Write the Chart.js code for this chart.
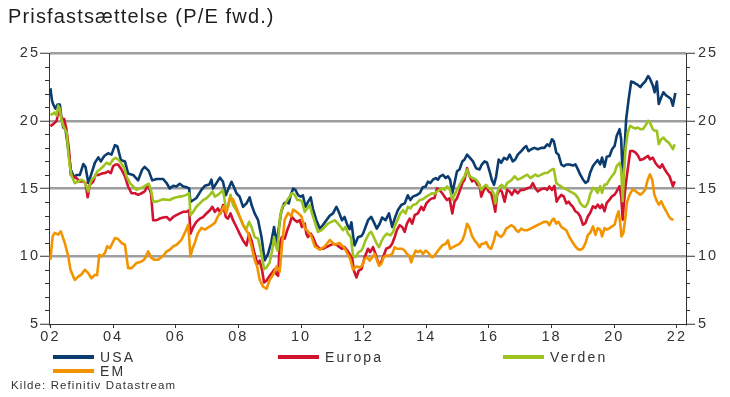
<!DOCTYPE html>
<html>
<head>
<meta charset="utf-8">
<script src="https://cdn.jsdelivr.net/npm/chart.js@4.4.1/dist/chart.umd.min.js"></script>
<style>
  body { margin: 0; background: #fff; font-family: "Liberation Sans", Arial, sans-serif; }
  #wrap { position: relative; width: 730px; height: 397px; }
  #myChart { position: absolute; left: 0; top: 0; }
  #title { position: absolute; left: 8px; top: 6px; font-size: 20px; line-height: 20px; letter-spacing: 1.15px; color: #1e1e1e; white-space: nowrap; }
  .sw { position: absolute; width: 41px; height: 4px; }
  .lbl { position: absolute; font-size: 14px; line-height: 14px; letter-spacing: 2.2px; color: #333; white-space: nowrap; }
  #source { position: absolute; left: 11px; top: 380px; font-size: 11.5px; line-height: 11.5px; letter-spacing: 1.1px; color: #333; white-space: nowrap; }
</style>
</head>
<body>
<div id="wrap">
  <canvas id="myChart" width="730" height="397"></canvas>
  <div id="title">Prisfastsættelse (P/E fwd.)</div>
  <div id="legend"></div>
  <div id="source">Kilde: Refinitiv Datastream</div>
</div>
<script>
// P/E fwd, [year, value]
const usaData = [
  [2002.0, 22.4], [2002.05, 21.5], [2002.09, 21.2], [2002.16, 20.9], [2002.23, 21.2], [2002.30, 21.2], [2002.36, 20.1],
  [2002.41, 19.5], [2002.48, 19.4], [2002.57, 17.9], [2002.65, 16.4], [2002.76, 15.8], [2002.83, 16.0], [2002.94, 16.0],
  [2003.05, 16.8], [2003.12, 16.6], [2003.21, 15.4], [2003.31, 16.1], [2003.42, 16.9], [2003.53, 17.3], [2003.61, 17.0],
  [2003.72, 17.4], [2003.84, 17.6], [2003.95, 17.5], [2004.06, 18.2], [2004.14, 18.1], [2004.25, 17.1], [2004.38, 17.0],
  [2004.48, 16.1], [2004.64, 16.0], [2004.80, 15.6], [2004.93, 16.4], [2005.01, 16.6], [2005.14, 16.3], [2005.25, 15.6],
  [2005.39, 15.7], [2005.60, 15.7], [2005.71, 15.4], [2005.81, 15.0], [2005.92, 15.2], [2006.02, 15.15], [2006.13, 15.35],
  [2006.24, 15.15], [2006.34, 15.1], [2006.43, 15.0], [2006.47, 14.0], [2006.66, 14.3], [2006.82, 14.9], [2006.93, 15.2],
  [2007.07, 15.3], [2007.14, 15.65], [2007.19, 15.0], [2007.30, 15.4], [2007.41, 15.8], [2007.51, 15.5], [2007.60, 14.5],
  [2007.67, 14.9], [2007.78, 15.5], [2007.85, 15.15], [2007.94, 14.65], [2008.04, 14.4], [2008.15, 13.65], [2008.26, 13.9],
  [2008.36, 14.35], [2008.42, 13.8], [2008.52, 13.16], [2008.63, 12.66], [2008.74, 11.4], [2008.84, 9.7], [2008.95, 10.2],
  [2009.05, 11.05], [2009.14, 12.16], [2009.22, 10.9], [2009.31, 12.4], [2009.37, 13.3], [2009.46, 13.9], [2009.53, 14.0],
  [2009.61, 13.9], [2009.67, 14.5], [2009.75, 15.0], [2009.82, 14.9], [2009.91, 14.5], [2009.99, 14.4], [2010.06, 14.5],
  [2010.14, 13.65], [2010.22, 14.0], [2010.31, 14.35], [2010.38, 13.5], [2010.49, 12.66], [2010.60, 12.04], [2010.70, 12.3],
  [2010.81, 12.66], [2010.92, 13.0], [2011.02, 13.16], [2011.13, 13.65], [2011.20, 13.3], [2011.31, 12.66], [2011.39, 12.9],
  [2011.48, 12.3], [2011.55, 12.0], [2011.61, 12.5], [2011.67, 11.4], [2011.71, 10.8], [2011.82, 11.4], [2011.93, 11.5],
  [2011.98, 11.67], [2012.06, 12.16], [2012.14, 12.66], [2012.24, 12.9], [2012.32, 12.54], [2012.42, 12.04], [2012.51, 12.4],
  [2012.59, 12.86], [2012.70, 12.66], [2012.81, 13.16], [2012.91, 12.16], [2012.99, 12.78], [2013.09, 13.4], [2013.20, 13.78],
  [2013.31, 13.9], [2013.41, 14.5], [2013.49, 14.15], [2013.57, 14.4], [2013.68, 14.5], [2013.79, 14.65], [2013.89, 15.1],
  [2013.98, 15.15], [2014.05, 15.5], [2014.13, 15.4], [2014.21, 15.65], [2014.30, 15.77], [2014.37, 15.65], [2014.44, 15.9],
  [2014.53, 16.0], [2014.62, 15.77], [2014.69, 15.9], [2014.76, 15.65], [2014.83, 14.65], [2014.90, 15.4], [2014.98, 16.27],
  [2015.06, 16.4], [2015.15, 17.0], [2015.22, 17.14], [2015.30, 17.5], [2015.38, 17.3], [2015.49, 17.0], [2015.59, 16.5],
  [2015.70, 16.4], [2015.77, 16.77], [2015.86, 17.0], [2015.94, 16.9], [2016.02, 16.27], [2016.09, 15.65], [2016.16, 15.27],
  [2016.23, 15.9], [2016.31, 17.14], [2016.39, 16.9], [2016.48, 17.26], [2016.58, 17.14], [2016.66, 17.5], [2016.76, 17.0],
  [2016.84, 17.14], [2016.92, 17.5], [2017.03, 17.76], [2017.12, 18.0], [2017.19, 18.13], [2017.26, 17.76], [2017.35, 17.9],
  [2017.45, 18.0], [2017.56, 17.9], [2017.67, 18.0], [2017.77, 18.0], [2017.86, 18.26], [2017.93, 18.13], [2018.01, 18.63],
  [2018.07, 18.5], [2018.15, 17.64], [2018.22, 17.5], [2018.31, 16.77], [2018.39, 16.64], [2018.47, 16.77], [2018.57, 16.77],
  [2018.68, 16.7], [2018.76, 16.78], [2018.84, 16.41], [2018.91, 16.04], [2019.0, 15.67], [2019.08, 15.42], [2019.16, 15.54],
  [2019.23, 16.16], [2019.32, 16.66], [2019.40, 16.9], [2019.47, 17.1], [2019.55, 16.78], [2019.61, 17.28], [2019.69, 16.6],
  [2019.76, 17.35], [2019.85, 17.4], [2019.93, 17.9], [2020.01, 18.14], [2020.08, 18.89], [2020.17, 19.38], [2020.22, 18.64],
  [2020.27, 15.9], [2020.31, 17.15], [2020.38, 20.12], [2020.46, 21.6], [2020.54, 22.9], [2020.64, 22.8], [2020.75, 22.65],
  [2020.83, 22.48], [2020.91, 22.72], [2020.99, 22.9], [2021.08, 23.3], [2021.14, 23.1], [2021.23, 22.6], [2021.29, 22.1],
  [2021.36, 22.9], [2021.42, 21.24], [2021.50, 21.73], [2021.57, 22.1], [2021.66, 21.86], [2021.74, 21.73], [2021.81, 21.6],
  [2021.87, 21.11], [2021.95, 22.05]
];

const europaData = [
  [2002.0, 19.6], [2002.09, 19.75], [2002.20, 20.0], [2002.27, 20.9], [2002.36, 20.17], [2002.44, 20.12], [2002.51, 19.38],
  [2002.59, 17.9], [2002.65, 16.0], [2002.73, 15.9], [2002.83, 15.77], [2002.94, 15.52], [2003.05, 15.52], [2003.12, 15.4],
  [2003.19, 14.35], [2003.26, 15.27], [2003.37, 15.52], [2003.44, 16.0], [2003.53, 16.0], [2003.63, 16.1], [2003.74, 16.14],
  [2003.84, 16.27], [2003.93, 16.14], [2004.0, 16.64], [2004.08, 16.77], [2004.16, 16.77], [2004.27, 16.4], [2004.38, 15.9],
  [2004.48, 15.15], [2004.59, 14.65], [2004.70, 14.65], [2004.80, 14.53], [2004.91, 14.65], [2005.01, 14.78], [2005.12, 15.27],
  [2005.21, 14.65], [2005.28, 12.66], [2005.39, 12.66], [2005.49, 12.78], [2005.60, 12.86], [2005.71, 12.9], [2005.81, 12.66],
  [2005.92, 12.9], [2006.02, 13.03], [2006.13, 13.16], [2006.24, 13.28], [2006.34, 13.28], [2006.43, 13.4], [2006.47, 11.67],
  [2006.56, 12.16], [2006.66, 12.54], [2006.77, 12.78], [2006.88, 12.9], [2006.98, 13.16], [2007.09, 13.4], [2007.17, 13.65],
  [2007.25, 13.28], [2007.35, 13.53], [2007.43, 13.16], [2007.51, 13.78], [2007.60, 12.9], [2007.67, 12.78], [2007.75, 13.16],
  [2007.83, 12.66], [2007.94, 12.16], [2008.04, 11.67], [2008.15, 11.17], [2008.26, 10.8], [2008.34, 11.67], [2008.42, 11.17],
  [2008.52, 10.17], [2008.61, 9.43], [2008.68, 9.68], [2008.76, 8.93], [2008.82, 8.06], [2008.89, 8.18], [2009.0, 8.56],
  [2009.08, 8.8], [2009.16, 9.05], [2009.21, 8.68], [2009.27, 8.56], [2009.32, 10.92], [2009.39, 11.42], [2009.48, 11.3],
  [2009.56, 11.92], [2009.64, 12.41], [2009.71, 12.9], [2009.80, 12.66], [2009.88, 12.54], [2009.96, 12.66], [2010.03, 12.16],
  [2010.12, 12.41], [2010.17, 11.67], [2010.22, 11.42], [2010.31, 11.67], [2010.38, 11.42], [2010.49, 10.8], [2010.60, 10.55],
  [2010.70, 10.55], [2010.81, 10.67], [2010.92, 10.8], [2011.02, 10.92], [2011.13, 10.87], [2011.23, 10.67], [2011.31, 10.55],
  [2011.39, 10.67], [2011.48, 10.42], [2011.55, 10.17], [2011.63, 9.93], [2011.69, 8.93], [2011.77, 8.43], [2011.84, 8.93],
  [2011.93, 9.05], [2011.96, 9.3], [2012.03, 9.93], [2012.14, 10.55], [2012.21, 10.3], [2012.30, 10.67], [2012.38, 10.17],
  [2012.46, 9.55], [2012.53, 9.43], [2012.62, 9.93], [2012.72, 10.55], [2012.83, 10.67], [2012.91, 10.92], [2012.99, 11.42],
  [2013.06, 11.92], [2013.15, 12.29], [2013.23, 12.16], [2013.31, 11.8], [2013.38, 12.41], [2013.47, 12.78], [2013.55, 12.41],
  [2013.63, 13.03], [2013.73, 13.16], [2013.84, 13.65], [2013.91, 13.4], [2014.0, 13.9], [2014.10, 14.15], [2014.19, 14.28],
  [2014.26, 14.28], [2014.34, 15.02], [2014.42, 14.9], [2014.51, 14.65], [2014.58, 14.4], [2014.66, 14.15], [2014.74, 14.28],
  [2014.83, 13.16], [2014.90, 14.03], [2014.98, 14.28], [2015.06, 14.78], [2015.15, 15.4], [2015.22, 15.65], [2015.30, 16.5],
  [2015.38, 15.9], [2015.46, 15.52], [2015.54, 15.65], [2015.63, 15.27], [2015.70, 15.27], [2015.75, 14.4], [2015.84, 14.9],
  [2015.91, 15.15], [2015.99, 14.78], [2016.07, 14.65], [2016.16, 13.78], [2016.20, 13.28], [2016.26, 14.53], [2016.34, 14.9],
  [2016.41, 14.78], [2016.50, 14.03], [2016.58, 14.9], [2016.66, 14.78], [2016.73, 14.53], [2016.82, 14.9], [2016.92, 14.65],
  [2017.01, 14.9], [2017.11, 14.9], [2017.22, 15.02], [2017.33, 15.1], [2017.40, 15.4], [2017.48, 15.02], [2017.56, 14.78],
  [2017.67, 14.95], [2017.77, 15.02], [2017.86, 14.9], [2017.93, 15.15], [2018.01, 14.9], [2018.09, 15.2], [2018.16, 14.03],
  [2018.22, 14.28], [2018.31, 14.53], [2018.39, 14.4], [2018.47, 13.9], [2018.54, 14.03], [2018.62, 13.78], [2018.68, 13.65],
  [2018.76, 13.32], [2018.84, 13.19], [2018.91, 12.95], [2019.0, 12.33], [2019.08, 12.45], [2019.16, 12.95], [2019.23, 13.19],
  [2019.32, 13.69], [2019.40, 13.56], [2019.47, 13.81], [2019.55, 13.56], [2019.61, 13.81], [2019.69, 13.32], [2019.76, 13.94],
  [2019.85, 14.18], [2019.93, 14.43], [2020.01, 14.55], [2020.08, 14.8], [2020.17, 15.17], [2020.22, 14.43], [2020.27, 12.7],
  [2020.30, 13.69], [2020.36, 15.17], [2020.43, 16.41], [2020.51, 17.77], [2020.59, 17.77], [2020.68, 17.65], [2020.75, 17.45],
  [2020.83, 17.1], [2020.91, 17.15], [2020.99, 17.28], [2021.08, 17.4], [2021.14, 17.15], [2021.23, 17.28], [2021.31, 16.9],
  [2021.39, 16.66], [2021.46, 16.53], [2021.53, 16.78], [2021.60, 16.46], [2021.68, 16.16], [2021.76, 15.92], [2021.82, 15.54],
  [2021.87, 15.17], [2021.93, 15.54]
];

const verdenData = [
  [2002.0, 20.42], [2002.06, 20.5], [2002.14, 20.62], [2002.20, 20.37], [2002.25, 21.12], [2002.30, 20.87], [2002.36, 20.0],
  [2002.41, 19.63], [2002.46, 19.38], [2002.52, 19.13], [2002.57, 17.64], [2002.62, 16.64], [2002.68, 15.9], [2002.78, 15.4],
  [2002.89, 15.52], [2002.99, 15.65], [2003.08, 15.52], [2003.15, 15.15], [2003.21, 14.78], [2003.29, 15.52], [2003.37, 15.77],
  [2003.42, 15.9], [2003.50, 16.27], [2003.58, 16.4], [2003.69, 16.64], [2003.79, 16.9], [2003.90, 16.77], [2004.0, 17.14],
  [2004.08, 17.26], [2004.16, 17.14], [2004.25, 16.9], [2004.36, 16.52], [2004.43, 15.9], [2004.54, 15.4], [2004.64, 15.15],
  [2004.75, 14.9], [2004.86, 15.02], [2004.96, 15.1], [2005.07, 15.27], [2005.14, 15.35], [2005.21, 14.9], [2005.28, 14.03],
  [2005.39, 14.03], [2005.60, 14.2], [2005.81, 14.15], [2005.92, 14.28], [2006.02, 14.35], [2006.13, 14.4], [2006.24, 14.45],
  [2006.34, 14.53], [2006.43, 14.65], [2006.47, 13.03], [2006.56, 13.28], [2006.66, 13.65], [2006.77, 13.9], [2006.88, 14.15],
  [2006.98, 14.28], [2007.09, 14.53], [2007.17, 14.78], [2007.25, 14.4], [2007.35, 14.53], [2007.43, 14.7], [2007.51, 14.9],
  [2007.60, 13.53], [2007.67, 13.65], [2007.75, 14.53], [2007.83, 13.78], [2007.94, 13.4], [2008.04, 12.9], [2008.15, 12.29],
  [2008.26, 12.04], [2008.34, 12.54], [2008.42, 12.16], [2008.52, 11.42], [2008.63, 11.3], [2008.74, 10.17], [2008.82, 9.05],
  [2008.90, 9.18], [2009.0, 9.55], [2009.08, 10.42], [2009.14, 11.42], [2009.19, 10.8], [2009.25, 10.42], [2009.32, 12.66],
  [2009.40, 13.65], [2009.48, 13.78], [2009.56, 14.15], [2009.64, 14.4], [2009.71, 14.65], [2009.80, 14.53], [2009.88, 14.15],
  [2009.96, 14.15], [2010.03, 14.03], [2010.12, 13.28], [2010.20, 13.53], [2010.28, 13.78], [2010.35, 13.16], [2010.44, 12.54],
  [2010.54, 11.8], [2010.65, 11.92], [2010.76, 12.16], [2010.86, 12.41], [2010.97, 12.54], [2011.08, 12.66], [2011.18, 12.41],
  [2011.27, 12.16], [2011.34, 11.92], [2011.42, 12.16], [2011.50, 11.67], [2011.59, 11.42], [2011.66, 10.05], [2011.73, 9.93],
  [2011.84, 10.3], [2011.93, 10.42], [2011.98, 10.67], [2012.06, 11.17], [2012.17, 11.67], [2012.24, 11.8], [2012.32, 11.42],
  [2012.42, 10.92], [2012.49, 10.67], [2012.56, 11.05], [2012.64, 11.42], [2012.74, 11.67], [2012.85, 11.54], [2012.94, 11.8],
  [2013.02, 12.41], [2013.10, 12.78], [2013.17, 13.16], [2013.25, 13.4], [2013.34, 13.16], [2013.41, 13.65], [2013.49, 13.53],
  [2013.57, 13.78], [2013.68, 13.86], [2013.79, 14.15], [2013.89, 14.2], [2014.0, 14.4], [2014.10, 14.53], [2014.19, 14.65],
  [2014.26, 14.6], [2014.34, 14.78], [2014.42, 14.9], [2014.51, 15.02], [2014.58, 14.9], [2014.66, 15.15], [2014.74, 15.02],
  [2014.83, 14.15], [2014.90, 14.53], [2014.98, 14.9], [2015.06, 15.27], [2015.15, 15.65], [2015.22, 15.9], [2015.30, 16.4],
  [2015.38, 15.9], [2015.49, 15.77], [2015.59, 15.65], [2015.67, 15.4], [2015.75, 14.9], [2015.84, 15.15], [2015.91, 15.27],
  [2015.99, 15.02], [2016.07, 15.02], [2016.16, 14.53], [2016.20, 13.9], [2016.26, 14.65], [2016.34, 15.15], [2016.41, 15.27],
  [2016.50, 15.02], [2016.58, 15.4], [2016.66, 15.52], [2016.73, 15.65], [2016.82, 15.9], [2016.92, 15.65], [2017.03, 15.77],
  [2017.12, 15.9], [2017.22, 16.02], [2017.33, 15.77], [2017.40, 15.9], [2017.48, 16.02], [2017.56, 15.9], [2017.67, 16.02],
  [2017.77, 16.14], [2017.86, 16.14], [2017.93, 16.27], [2018.01, 16.4], [2018.07, 16.44], [2018.15, 15.4], [2018.22, 15.27],
  [2018.31, 15.15], [2018.39, 15.02], [2018.47, 14.95], [2018.57, 14.8], [2018.68, 14.68], [2018.76, 14.55], [2018.84, 14.31],
  [2018.91, 13.94], [2019.0, 13.69], [2019.08, 13.64], [2019.16, 13.94], [2019.23, 14.55], [2019.32, 15.05], [2019.40, 14.93],
  [2019.47, 14.68], [2019.55, 15.17], [2019.61, 14.68], [2019.69, 15.3], [2019.76, 15.3], [2019.85, 15.67], [2019.93, 15.92],
  [2020.01, 16.16], [2020.08, 16.66], [2020.17, 16.9], [2020.22, 16.41], [2020.27, 14.06], [2020.30, 15.67], [2020.36, 17.9],
  [2020.43, 19.13], [2020.51, 19.63], [2020.59, 19.5], [2020.68, 19.43], [2020.75, 19.5], [2020.83, 19.38], [2020.91, 19.38],
  [2020.99, 19.63], [2021.08, 20.0], [2021.14, 19.88], [2021.23, 19.38], [2021.29, 19.26], [2021.36, 19.26], [2021.42, 18.27],
  [2021.50, 18.64], [2021.57, 18.76], [2021.66, 18.51], [2021.74, 18.39], [2021.81, 18.14], [2021.87, 17.9], [2021.93, 18.27]
];

const emData = [
  [2002.0, 9.74], [2002.07, 11.47], [2002.14, 11.72], [2002.25, 11.6], [2002.33, 11.84], [2002.46, 10.98], [2002.57, 9.99],
  [2002.64, 9.0], [2002.73, 8.5], [2002.78, 8.26], [2002.89, 8.5], [2003.0, 8.68], [2003.10, 9.0], [2003.21, 8.75],
  [2003.31, 8.38], [2003.42, 8.63], [2003.49, 8.6], [2003.56, 10.1], [2003.63, 9.99], [2003.74, 10.24], [2003.81, 10.73],
  [2003.90, 10.6], [2004.06, 11.35], [2004.16, 11.27], [2004.27, 10.98], [2004.38, 10.85], [2004.48, 9.12], [2004.59, 9.12],
  [2004.75, 9.5], [2004.91, 9.61], [2005.01, 9.79], [2005.12, 10.36], [2005.23, 9.86], [2005.33, 9.74], [2005.44, 9.74],
  [2005.60, 10.04], [2005.71, 10.36], [2005.81, 10.48], [2005.92, 10.73], [2006.03, 10.85], [2006.18, 11.2], [2006.29, 11.72],
  [2006.40, 12.33], [2006.47, 9.99], [2006.54, 10.6], [2006.61, 10.98], [2006.71, 11.72], [2006.82, 12.09], [2006.93, 11.96],
  [2007.09, 12.2], [2007.25, 12.46], [2007.35, 12.95], [2007.46, 13.32], [2007.53, 13.69], [2007.62, 13.2], [2007.73, 14.3],
  [2007.83, 14.19], [2007.94, 13.57], [2008.04, 12.95], [2008.20, 12.09], [2008.31, 11.72], [2008.42, 10.73], [2008.52, 9.74],
  [2008.60, 9.24], [2008.68, 8.26], [2008.79, 7.76], [2008.90, 7.6], [2009.0, 8.26], [2009.11, 8.63], [2009.22, 9.24],
  [2009.32, 8.87], [2009.41, 11.2], [2009.48, 12.7], [2009.59, 13.2], [2009.69, 12.95], [2009.75, 13.44], [2009.90, 13.2],
  [2010.01, 12.95], [2010.12, 12.09], [2010.22, 11.84], [2010.33, 11.47], [2010.44, 10.73], [2010.60, 10.48], [2010.76, 10.73],
  [2010.92, 11.2], [2011.07, 10.85], [2011.23, 10.98], [2011.39, 10.6], [2011.50, 10.11], [2011.58, 9.74], [2011.66, 9.0],
  [2011.77, 9.24], [2011.87, 9.18], [2011.96, 9.3], [2012.03, 9.8], [2012.11, 9.93], [2012.19, 9.68], [2012.28, 9.93],
  [2012.35, 10.17], [2012.43, 9.68], [2012.49, 9.3], [2012.56, 9.43], [2012.64, 9.93], [2012.72, 10.05], [2012.83, 10.05],
  [2012.91, 10.17], [2012.99, 10.67], [2013.06, 10.55], [2013.15, 10.55], [2013.23, 10.55], [2013.31, 10.42], [2013.38, 10.17],
  [2013.45, 10.05], [2013.52, 9.55], [2013.57, 9.93], [2013.66, 10.42], [2013.73, 10.3], [2013.81, 10.42], [2013.89, 10.17],
  [2013.98, 10.42], [2014.05, 10.3], [2014.13, 10.05], [2014.19, 9.93], [2014.26, 10.05], [2014.34, 10.3], [2014.42, 10.55],
  [2014.51, 10.8], [2014.62, 10.92], [2014.69, 11.17], [2014.76, 10.55], [2014.85, 10.67], [2014.96, 10.8], [2015.06, 10.92],
  [2015.15, 11.17], [2015.22, 11.6], [2015.30, 12.4], [2015.38, 12.1], [2015.46, 11.5], [2015.54, 11.17], [2015.63, 10.92],
  [2015.70, 10.67], [2015.77, 10.92], [2015.84, 10.92], [2015.91, 11.05], [2015.99, 10.67], [2016.07, 10.55], [2016.16, 11.17],
  [2016.23, 11.8], [2016.31, 11.54], [2016.39, 11.42], [2016.48, 11.67], [2016.55, 12.04], [2016.63, 12.16], [2016.71, 12.29],
  [2016.80, 12.16], [2016.87, 11.92], [2016.94, 11.8], [2017.03, 12.04], [2017.12, 11.92], [2017.22, 11.92], [2017.33, 12.04],
  [2017.43, 12.16], [2017.54, 12.29], [2017.65, 12.41], [2017.75, 12.54], [2017.86, 12.54], [2017.93, 12.29], [2018.01, 12.66],
  [2018.07, 12.78], [2018.15, 12.41], [2018.22, 12.54], [2018.31, 12.16], [2018.39, 12.04], [2018.47, 11.92], [2018.57, 11.4],
  [2018.68, 11.0], [2018.76, 10.72], [2018.84, 10.52], [2018.91, 10.47], [2019.0, 10.59], [2019.08, 10.97], [2019.16, 11.58],
  [2019.23, 11.71], [2019.32, 12.2], [2019.40, 11.58], [2019.47, 12.08], [2019.55, 11.96], [2019.61, 11.46], [2019.69, 12.08],
  [2019.76, 11.96], [2019.85, 12.08], [2019.93, 12.2], [2020.01, 12.33], [2020.08, 12.95], [2020.14, 13.32], [2020.19, 12.45],
  [2020.23, 11.46], [2020.29, 11.71], [2020.36, 12.95], [2020.40, 13.94], [2020.49, 14.55], [2020.59, 14.93], [2020.68, 14.8],
  [2020.75, 14.68], [2020.83, 14.55], [2020.91, 14.68], [2020.99, 14.93], [2021.07, 15.67], [2021.14, 16.04], [2021.21, 15.67],
  [2021.28, 14.55], [2021.36, 14.06], [2021.42, 13.81], [2021.50, 14.06], [2021.57, 13.69], [2021.66, 13.32], [2021.74, 12.95],
  [2021.81, 12.75], [2021.89, 12.7]
];

const seriesNames = ['USA', 'Europa', 'Verden', 'EM'];
const seriesColors = ['#0b3c6f', '#d2122e', '#9dc31e', '#f29400'];

// legend: name -> [left, centre y]
const legendSpots = [[53, 357], [278, 357], [503, 357], [53, 370.5]];

const legendBox = document.getElementById('legend');
seriesNames.forEach((name, i) => {
  const [lx, ly] = legendSpots[i];
  const sw = document.createElement('div');
  sw.className = 'sw';
  sw.style.left = lx + 'px';
  sw.style.top = (ly - 2) + 'px';
  sw.style.background = seriesColors[i];
  legendBox.appendChild(sw);
  const t = document.createElement('div');
  t.className = 'lbl';
  t.style.left = (lx + 47) + 'px';
  t.style.top = (ly - 7) + 'px';
  t.textContent = name;
  legendBox.appendChild(t);
});

// small ticks for every whole number on both y-axes
const minorTicks = {
  id: 'minorTicks',
  beforeDraw(chart) {
    chart.ctx.letterSpacing = '2px';
  },
  afterDraw(chart) {
    const ctx = chart.ctx;
    const y = chart.scales.y;
    const { left, right } = chart.chartArea;
    ctx.save();
    ctx.strokeStyle = '#333';
    ctx.lineWidth = 1;
    ctx.beginPath();
    for (let v = 6; v < 25; v++) {
      if (v % 5 === 0) continue;
      const py = Math.round(y.getPixelForValue(v)) + 0.5;
      ctx.moveTo(left - 4, py); ctx.lineTo(left, py);
      ctx.moveTo(right, py); ctx.lineTo(right + 4, py);
    }
    ctx.stroke();
    ctx.restore();
  }
};

const datasets = [usaData, europaData, verdenData, emData].map((d, i) => ({
  label: seriesNames[i],
  data: d,
  borderColor: seriesColors[i],
  backgroundColor: seriesColors[i],
  borderWidth: 2.6,
  pointRadius: 0,
  tension: 0,
  borderJoinStyle: 'round',
  order: 4 - i
}));

const tickFont = { family: '"Liberation Sans", Arial, sans-serif', size: 14.5 };

const yAxis = (pos) => ({
  type: 'linear',
  position: pos,
  min: 5,
  max: 25,
  border: { color: '#333', width: 1 },
  grid: {
    drawOnChartArea: pos === 'left',
    color: (c) => (c.tick && c.tick.value === 5 ? 'rgba(0,0,0,0)' : '#9e9e9e'),
    lineWidth: 2.5,
    tickColor: '#333',
    tickWidth: 1,
    tickLength: 9
  },
  ticks: { stepSize: 5, color: '#333', font: tickFont, padding: pos === 'left' ? 0 : 3 },
  afterFit: (s) => { s.width = pos === 'left' ? 49 : 44; }
});

new Chart(document.getElementById('myChart'), {
  type: 'line',
  data: { datasets: datasets },
  options: {
    responsive: false,
    animation: false,
    devicePixelRatio: 1,
    layout: { padding: { top: 53, left: 0, right: 0, bottom: 0 } },
    plugins: { legend: { display: false }, tooltip: { enabled: false } },
    scales: {
      x: {
        type: 'linear',
        min: 2001.955,
        max: 2022.29,
        border: { color: '#333', width: 1 },
        grid: { drawOnChartArea: false, tickColor: '#333', tickLength: 4, tickWidth: 1 },
        ticks: {
          stepSize: 2,
          includeBounds: false,
          color: '#333',
          font: tickFont,
          padding: 0,
          maxRotation: 0,
          callback: (v) => String(v).slice(2)
        },
        afterFit: (s) => { s.height = 73; }
      },
      y: yAxis('left'),
      y2: yAxis('right')
    }
  },
  plugins: [minorTicks]
});
</script>
</body>
</html>
